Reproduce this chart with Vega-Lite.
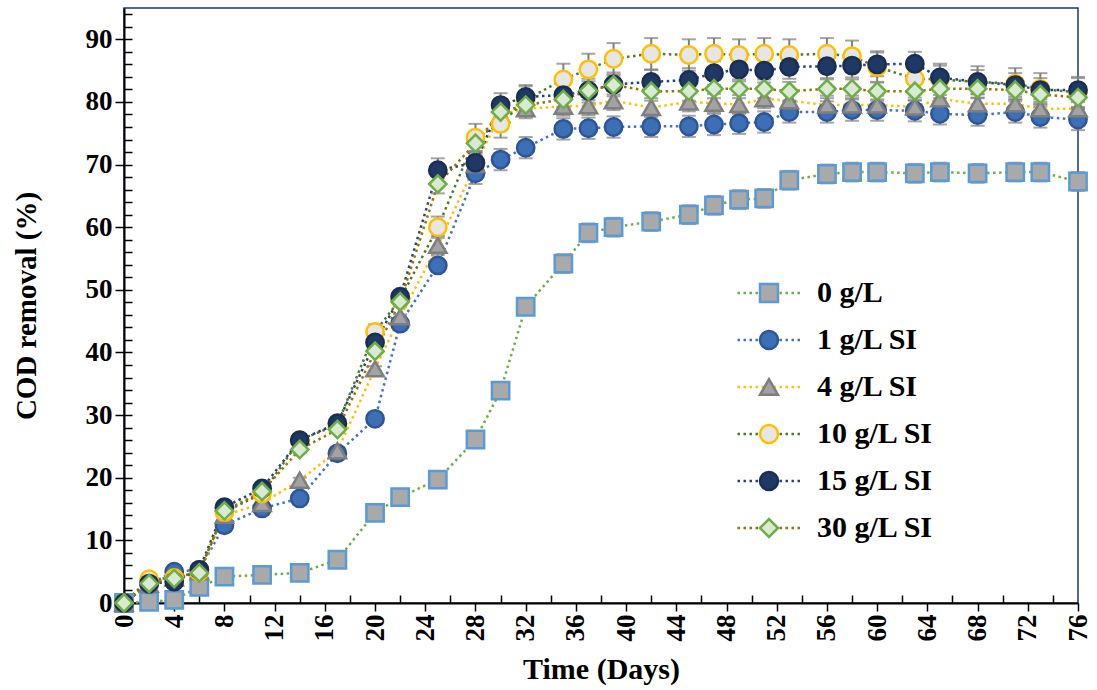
{
  "$schema": "https://vega.github.io/schema/vega-lite/v6.json",
  "width": 954,
  "height": 595,
  "autosize": {"type": "none"},
  "padding": {"left": 124, "top": 8, "right": 19, "bottom": 87},
  "background": "white",
  "config": {
    "font": "Liberation Serif",
    "view": {"stroke": "#1f3864", "strokeWidth": 1.5},
    "axis": {
      "labelFont": "Liberation Serif", "labelFontWeight": "bold", "labelFontSize": 27, "labelColor": "black",
      "titleFont": "Liberation Serif", "titleFontWeight": "bold", "titleFontSize": 29, "titleColor": "black",
      "domainColor": "black", "domainWidth": 2, "tickColor": "black", "tickWidth": 1.5, "grid": false
    }
  },
  "data": {"values": [
    {"day":0,"series":"0 g/L","cod":0,"err":0.3},{"day":2,"series":"0 g/L","cod":0.2,"err":0.3},{"day":4,"series":"0 g/L","cod":0.5,"err":0.3},{"day":6,"series":"0 g/L","cod":2.6,"err":0.3},{"day":8,"series":"0 g/L","cod":4.2,"err":0.3},{"day":11,"series":"0 g/L","cod":4.5,"err":0.3},{"day":14,"series":"0 g/L","cod":4.8,"err":0.3},{"day":17,"series":"0 g/L","cod":6.9,"err":0.3},{"day":20,"series":"0 g/L","cod":14.4,"err":0.3},{"day":22,"series":"0 g/L","cod":16.9,"err":0.3},{"day":25,"series":"0 g/L","cod":19.7,"err":0.3},{"day":28,"series":"0 g/L","cod":26.1,"err":0.3},{"day":30,"series":"0 g/L","cod":33.9,"err":0.3},{"day":32,"series":"0 g/L","cod":47.3,"err":0.3},{"day":35,"series":"0 g/L","cod":54.2,"err":1.5},{"day":37,"series":"0 g/L","cod":59.1,"err":1.5},{"day":39,"series":"0 g/L","cod":60,"err":1.5},{"day":42,"series":"0 g/L","cod":60.9,"err":1.5},{"day":45,"series":"0 g/L","cod":62,"err":1.5},{"day":47,"series":"0 g/L","cod":63.5,"err":1.5},{"day":49,"series":"0 g/L","cod":64.4,"err":1.5},{"day":51,"series":"0 g/L","cod":64.6,"err":1.5},{"day":53,"series":"0 g/L","cod":67.5,"err":1.5},{"day":56,"series":"0 g/L","cod":68.5,"err":1.5},{"day":58,"series":"0 g/L","cod":68.8,"err":1.5},{"day":60,"series":"0 g/L","cod":68.8,"err":1.5},{"day":63,"series":"0 g/L","cod":68.6,"err":1.5},{"day":65,"series":"0 g/L","cod":68.8,"err":1.5},{"day":68,"series":"0 g/L","cod":68.6,"err":1.5},{"day":71,"series":"0 g/L","cod":68.8,"err":1.5},{"day":73,"series":"0 g/L","cod":68.8,"err":1.5},{"day":76,"series":"0 g/L","cod":67.3,"err":1.5},
    {"day":0,"series":"1 g/L SI","cod":0,"err":0.4},{"day":2,"series":"1 g/L SI","cod":3,"err":0.4},{"day":4,"series":"1 g/L SI","cod":5,"err":0.4},{"day":6,"series":"1 g/L SI","cod":5.3,"err":0.4},{"day":8,"series":"1 g/L SI","cod":12.4,"err":0.4},{"day":11,"series":"1 g/L SI","cod":15.1,"err":0.4},{"day":14,"series":"1 g/L SI","cod":16.7,"err":0.4},{"day":17,"series":"1 g/L SI","cod":23.9,"err":0.4},{"day":20,"series":"1 g/L SI","cod":29.4,"err":0.4},{"day":22,"series":"1 g/L SI","cod":44.6,"err":0.4},{"day":25,"series":"1 g/L SI","cod":53.9,"err":0.4},{"day":28,"series":"1 g/L SI","cod":68.6,"err":1.7},{"day":30,"series":"1 g/L SI","cod":70.8,"err":1.7},{"day":32,"series":"1 g/L SI","cod":72.7,"err":1.7},{"day":35,"series":"1 g/L SI","cod":75.7,"err":1.7},{"day":37,"series":"1 g/L SI","cod":75.8,"err":1.7},{"day":39,"series":"1 g/L SI","cod":76,"err":1.7},{"day":42,"series":"1 g/L SI","cod":76.1,"err":1.7},{"day":45,"series":"1 g/L SI","cod":76.1,"err":1.7},{"day":47,"series":"1 g/L SI","cod":76.4,"err":1.7},{"day":49,"series":"1 g/L SI","cod":76.6,"err":1.7},{"day":51,"series":"1 g/L SI","cod":76.8,"err":1.7},{"day":53,"series":"1 g/L SI","cod":78.4,"err":1.7},{"day":56,"series":"1 g/L SI","cod":78.4,"err":1.7},{"day":58,"series":"1 g/L SI","cod":78.7,"err":1.7},{"day":60,"series":"1 g/L SI","cod":78.7,"err":1.7},{"day":63,"series":"1 g/L SI","cod":78.6,"err":1.7},{"day":65,"series":"1 g/L SI","cod":78.1,"err":1.7},{"day":68,"series":"1 g/L SI","cod":77.9,"err":1.7},{"day":71,"series":"1 g/L SI","cod":78.4,"err":1.7},{"day":73,"series":"1 g/L SI","cod":77.6,"err":1.7},{"day":76,"series":"1 g/L SI","cod":77.2,"err":1.7},
    {"day":0,"series":"4 g/L SI","cod":0,"err":0.4},{"day":2,"series":"4 g/L SI","cod":3,"err":0.4},{"day":4,"series":"4 g/L SI","cod":4,"err":0.4},{"day":6,"series":"4 g/L SI","cod":5,"err":0.4},{"day":8,"series":"4 g/L SI","cod":14,"err":0.4},{"day":11,"series":"4 g/L SI","cod":15.9,"err":0.4},{"day":14,"series":"4 g/L SI","cod":19.6,"err":0.4},{"day":17,"series":"4 g/L SI","cod":24.3,"err":0.4},{"day":20,"series":"4 g/L SI","cod":37.4,"err":0.4},{"day":22,"series":"4 g/L SI","cod":45.7,"err":0.4},{"day":25,"series":"4 g/L SI","cod":57.1,"err":1.5},{"day":28,"series":"4 g/L SI","cod":70,"err":1.5},{"day":30,"series":"4 g/L SI","cod":78,"err":1.5},{"day":32,"series":"4 g/L SI","cod":78.9,"err":1.5},{"day":35,"series":"4 g/L SI","cod":79.3,"err":1.5},{"day":37,"series":"4 g/L SI","cod":79.4,"err":1.5},{"day":39,"series":"4 g/L SI","cod":80.2,"err":1.5},{"day":42,"series":"4 g/L SI","cod":79.1,"err":1.5},{"day":45,"series":"4 g/L SI","cod":80,"err":1.5},{"day":47,"series":"4 g/L SI","cod":79.8,"err":1.5},{"day":49,"series":"4 g/L SI","cod":79.6,"err":1.5},{"day":51,"series":"4 g/L SI","cod":80.5,"err":1.5},{"day":53,"series":"4 g/L SI","cod":80.2,"err":1.5},{"day":56,"series":"4 g/L SI","cod":79.5,"err":1.5},{"day":58,"series":"4 g/L SI","cod":79.5,"err":1.5},{"day":60,"series":"4 g/L SI","cod":79.5,"err":1.5},{"day":63,"series":"4 g/L SI","cod":79.2,"err":1.5},{"day":65,"series":"4 g/L SI","cod":80.5,"err":1.5},{"day":68,"series":"4 g/L SI","cod":79.7,"err":1.5},{"day":71,"series":"4 g/L SI","cod":79.7,"err":1.5},{"day":73,"series":"4 g/L SI","cod":78.9,"err":1.5},{"day":76,"series":"4 g/L SI","cod":78.9,"err":1.5},
    {"day":0,"series":"10 g/L SI","cod":0,"err":0.4},{"day":2,"series":"10 g/L SI","cod":3.8,"err":0.4},{"day":4,"series":"10 g/L SI","cod":4,"err":0.4},{"day":6,"series":"10 g/L SI","cod":5,"err":0.4},{"day":8,"series":"10 g/L SI","cod":14.5,"err":0.4},{"day":11,"series":"10 g/L SI","cod":17.5,"err":0.4},{"day":14,"series":"10 g/L SI","cod":26,"err":0.4},{"day":17,"series":"10 g/L SI","cod":28.5,"err":0.4},{"day":20,"series":"10 g/L SI","cod":43.3,"err":1.2},{"day":22,"series":"10 g/L SI","cod":48.5,"err":1.2},{"day":25,"series":"10 g/L SI","cod":60,"err":1.7},{"day":28,"series":"10 g/L SI","cod":74.3,"err":2.2},{"day":30,"series":"10 g/L SI","cod":76.5,"err":2.2},{"day":32,"series":"10 g/L SI","cod":80.3,"err":2.2},{"day":35,"series":"10 g/L SI","cod":83.6,"err":2.5},{"day":37,"series":"10 g/L SI","cod":85.2,"err":2.5},{"day":39,"series":"10 g/L SI","cod":86.9,"err":2.5},{"day":42,"series":"10 g/L SI","cod":87.7,"err":2.5},{"day":45,"series":"10 g/L SI","cod":87.5,"err":2.5},{"day":47,"series":"10 g/L SI","cod":87.7,"err":2.5},{"day":49,"series":"10 g/L SI","cod":87.5,"err":2.5},{"day":51,"series":"10 g/L SI","cod":87.7,"err":2.5},{"day":53,"series":"10 g/L SI","cod":87.5,"err":2.5},{"day":56,"series":"10 g/L SI","cod":87.7,"err":2.5},{"day":58,"series":"10 g/L SI","cod":87.3,"err":2.5},{"day":60,"series":"10 g/L SI","cod":85.6,"err":2.5},{"day":63,"series":"10 g/L SI","cod":83.7,"err":2.5},{"day":65,"series":"10 g/L SI","cod":83.6,"err":2.5},{"day":68,"series":"10 g/L SI","cod":83.2,"err":2.5},{"day":71,"series":"10 g/L SI","cod":82.9,"err":2.5},{"day":73,"series":"10 g/L SI","cod":82.1,"err":2.5},{"day":76,"series":"10 g/L SI","cod":81.5,"err":2.5},
    {"day":0,"series":"15 g/L SI","cod":0,"err":0.5},{"day":2,"series":"15 g/L SI","cod":3.1,"err":0.5},{"day":4,"series":"15 g/L SI","cod":3.4,"err":0.5},{"day":6,"series":"15 g/L SI","cod":5.3,"err":0.5},{"day":8,"series":"15 g/L SI","cod":15.3,"err":0.5},{"day":11,"series":"15 g/L SI","cod":18.3,"err":0.5},{"day":14,"series":"15 g/L SI","cod":26,"err":0.5},{"day":17,"series":"15 g/L SI","cod":28.7,"err":0.5},{"day":20,"series":"15 g/L SI","cod":41.6,"err":0.5},{"day":22,"series":"15 g/L SI","cod":48.9,"err":0.5},{"day":25,"series":"15 g/L SI","cod":69.1,"err":1.9},{"day":28,"series":"15 g/L SI","cod":70.3,"err":1.9},{"day":30,"series":"15 g/L SI","cod":79.5,"err":1.9},{"day":32,"series":"15 g/L SI","cod":80.8,"err":1.9},{"day":35,"series":"15 g/L SI","cod":81.1,"err":1.9},{"day":37,"series":"15 g/L SI","cod":81.8,"err":1.9},{"day":39,"series":"15 g/L SI","cod":82.8,"err":1.9},{"day":42,"series":"15 g/L SI","cod":83.2,"err":1.9},{"day":45,"series":"15 g/L SI","cod":83.5,"err":1.9},{"day":47,"series":"15 g/L SI","cod":84.6,"err":1.9},{"day":49,"series":"15 g/L SI","cod":85.2,"err":1.9},{"day":51,"series":"15 g/L SI","cod":85,"err":1.9},{"day":53,"series":"15 g/L SI","cod":85.6,"err":1.9},{"day":56,"series":"15 g/L SI","cod":85.7,"err":1.9},{"day":58,"series":"15 g/L SI","cod":85.8,"err":1.9},{"day":60,"series":"15 g/L SI","cod":86,"err":1.9},{"day":63,"series":"15 g/L SI","cod":86.1,"err":1.9},{"day":65,"series":"15 g/L SI","cod":83.9,"err":1.9},{"day":68,"series":"15 g/L SI","cod":83.2,"err":1.9},{"day":71,"series":"15 g/L SI","cod":82.7,"err":1.9},{"day":73,"series":"15 g/L SI","cod":81.9,"err":1.9},{"day":76,"series":"15 g/L SI","cod":81.9,"err":1.9},
    {"day":0,"series":"30 g/L SI","cod":0,"err":0.5},{"day":2,"series":"30 g/L SI","cod":3.1,"err":0.5},{"day":4,"series":"30 g/L SI","cod":3.9,"err":0.5},{"day":6,"series":"30 g/L SI","cod":4.8,"err":0.5},{"day":8,"series":"30 g/L SI","cod":14.7,"err":0.5},{"day":11,"series":"30 g/L SI","cod":17.8,"err":0.5},{"day":14,"series":"30 g/L SI","cod":24.5,"err":0.5},{"day":17,"series":"30 g/L SI","cod":27.7,"err":0.5},{"day":20,"series":"30 g/L SI","cod":40.2,"err":0.5},{"day":22,"series":"30 g/L SI","cod":48.1,"err":0.5},{"day":25,"series":"30 g/L SI","cod":66.9,"err":1.5},{"day":28,"series":"30 g/L SI","cod":73.4,"err":1.5},{"day":30,"series":"30 g/L SI","cod":78.4,"err":1.5},{"day":32,"series":"30 g/L SI","cod":79.5,"err":1.5},{"day":35,"series":"30 g/L SI","cod":80.4,"err":1.5},{"day":37,"series":"30 g/L SI","cod":81.8,"err":1.5},{"day":39,"series":"30 g/L SI","cod":82.7,"err":1.5},{"day":42,"series":"30 g/L SI","cod":81.7,"err":1.5},{"day":45,"series":"30 g/L SI","cod":81.7,"err":1.5},{"day":47,"series":"30 g/L SI","cod":82.1,"err":1.5},{"day":49,"series":"30 g/L SI","cod":82.1,"err":1.5},{"day":51,"series":"30 g/L SI","cod":82.1,"err":1.5},{"day":53,"series":"30 g/L SI","cod":81.7,"err":1.5},{"day":56,"series":"30 g/L SI","cod":82.1,"err":1.5},{"day":58,"series":"30 g/L SI","cod":82.1,"err":1.5},{"day":60,"series":"30 g/L SI","cod":81.7,"err":1.5},{"day":63,"series":"30 g/L SI","cod":81.7,"err":1.5},{"day":65,"series":"30 g/L SI","cod":82.1,"err":1.5},{"day":68,"series":"30 g/L SI","cod":82.1,"err":1.5},{"day":71,"series":"30 g/L SI","cod":81.9,"err":1.5},{"day":73,"series":"30 g/L SI","cod":81.2,"err":1.5},{"day":76,"series":"30 g/L SI","cod":80.7,"err":1.5}
  ]},
  "resolve": {
    "scale": {"color": "independent", "shape": "independent", "stroke": "independent"},
    "axis": {"x": "independent", "y": "independent"}
  },
  "layer": [
    {
      "mark": {"type": "line", "strokeDash": [2.5, 3.5], "strokeWidth": 2.5},
      "encoding": {
        "x": {"field": "day", "type": "quantitative", "scale": {"domain": [0, 76], "nice": false, "zero": false},
              "axis": {"orient": "bottom", "values": [0,4,8,12,16,20,24,28,32,36,40,44,48,52,56,60,64,68,72,76], "tickSize": 8, "labelAngle": -90, "labelPadding": 3, "title": "Time (Days)", "titleFontSize": 30, "titlePadding": 13}},
        "y": {"field": "cod", "type": "quantitative", "scale": {"domain": [0, 95], "nice": false},
              "axis": {"orient": "left", "values": [0,10,20,30,40,50,60,70,80,90], "tickSize": 9, "labelPadding": 3, "title": "COD removal (%)", "titlePadding": 44}},
        "color": {"field": "series", "type": "nominal",
                  "scale": {"domain": ["0 g/L", "1 g/L SI", "4 g/L SI", "10 g/L SI", "15 g/L SI", "30 g/L SI"],
                            "range": ["#70ad47", "#4472c4", "#ffc000", "#4e7a2e", "#264478", "#997300"]},
                  "legend": {"orient": "none", "legendX": 630, "legendY": 270, "title": null, "padding": 0,
                             "symbolType": "M-3.5,0H3.5", "symbolSize": 324, "symbolStrokeWidth": 2.5, "symbolDash": [2.5, 3.5],
                             "labelFont": "Liberation Serif", "labelFontSize": 30, "labelFontWeight": "bold", "labelColor": "black",
                             "labelOffset": 33, "rowPadding": 17}}
      }
    },
    {
      "mark": {"type": "errorbar", "ticks": true, "size": 14, "thickness": 2, "color": "#7f7f7f"},
      "encoding": {
        "x": {"field": "day", "type": "quantitative", "axis": null},
        "y": {"field": "cod", "type": "quantitative", "axis": null},
        "yError": {"field": "err"}
      }
    },
    {
      "mark": {"type": "point", "filled": true, "size": 300, "strokeWidth": 2.5, "opacity": 1},
      "encoding": {
        "x": {"field": "day", "type": "quantitative", "axis": null},
        "y": {"field": "cod", "type": "quantitative", "axis": null},
        "color": {"field": "series", "type": "nominal",
                  "scale": {"domain": ["0 g/L", "1 g/L SI", "4 g/L SI", "10 g/L SI", "15 g/L SI", "30 g/L SI"],
                            "range": ["#a9a9a9", "#3d6fb6", "#a3a3a3", "#e6e6e6", "#1f3864", "#d9ead3"]},
                  "legend": {"orient": "none", "legendX": 630, "legendY": 270, "title": null, "padding": 0, "symbolSize": 324, "symbolStrokeWidth": 2.5,
                             "labelFont": "Liberation Serif", "labelFontSize": 30, "labelFontWeight": "bold", "labelExpr": "''", "rowPadding": 17}},
        "shape": {"field": "series", "type": "nominal",
                  "scale": {"domain": ["0 g/L", "1 g/L SI", "4 g/L SI", "10 g/L SI", "15 g/L SI", "30 g/L SI"],
                            "range": ["square", "circle", "triangle-up", "circle", "circle", "diamond"]},
                  "legend": {"orient": "none", "legendX": 630, "legendY": 270, "title": null, "padding": 0, "symbolSize": 324, "symbolStrokeWidth": 2.5,
                             "labelFont": "Liberation Serif", "labelFontSize": 30, "labelFontWeight": "bold", "labelExpr": "''", "rowPadding": 17}},
        "stroke": {"field": "series", "type": "nominal",
                   "scale": {"domain": ["0 g/L", "1 g/L SI", "4 g/L SI", "10 g/L SI", "15 g/L SI", "30 g/L SI"],
                             "range": ["#5b9bd5", "#2f5597", "#7f7f7f", "#ffc000", "#1a2e55", "#70ad47"]},
                   "legend": {"orient": "none", "legendX": 630, "legendY": 270, "title": null, "padding": 0, "symbolSize": 324, "symbolStrokeWidth": 2.5,
                              "labelFont": "Liberation Serif", "labelFontSize": 30, "labelFontWeight": "bold", "labelExpr": "''", "rowPadding": 17}}
      }
    },
    {
      "mark": {"type": "point", "opacity": 0},
      "encoding": {
        "x": {"field": "day", "type": "quantitative",
              "axis": {"orient": "bottom", "values": [2,6,10,14,18,22,26,30,34,38,42,46,50,54,58,62,66,70,74], "tickSize": -8, "labels": false, "domain": false, "title": null}},
        "y": {"field": "cod", "type": "quantitative",
              "axis": {"orient": "left", "values": [0,2,4,6,8,10,12,14,16,18,20,22,24,26,28,30,32,34,36,38,40,42,44,46,48,50,52,54,56,58,60,62,64,66,68,70,72,74,76,78,80,82,84,86,88,90,92,94], "tickSize": -8, "labels": false, "domain": false, "title": null}}
      }
    }
  ]
}
